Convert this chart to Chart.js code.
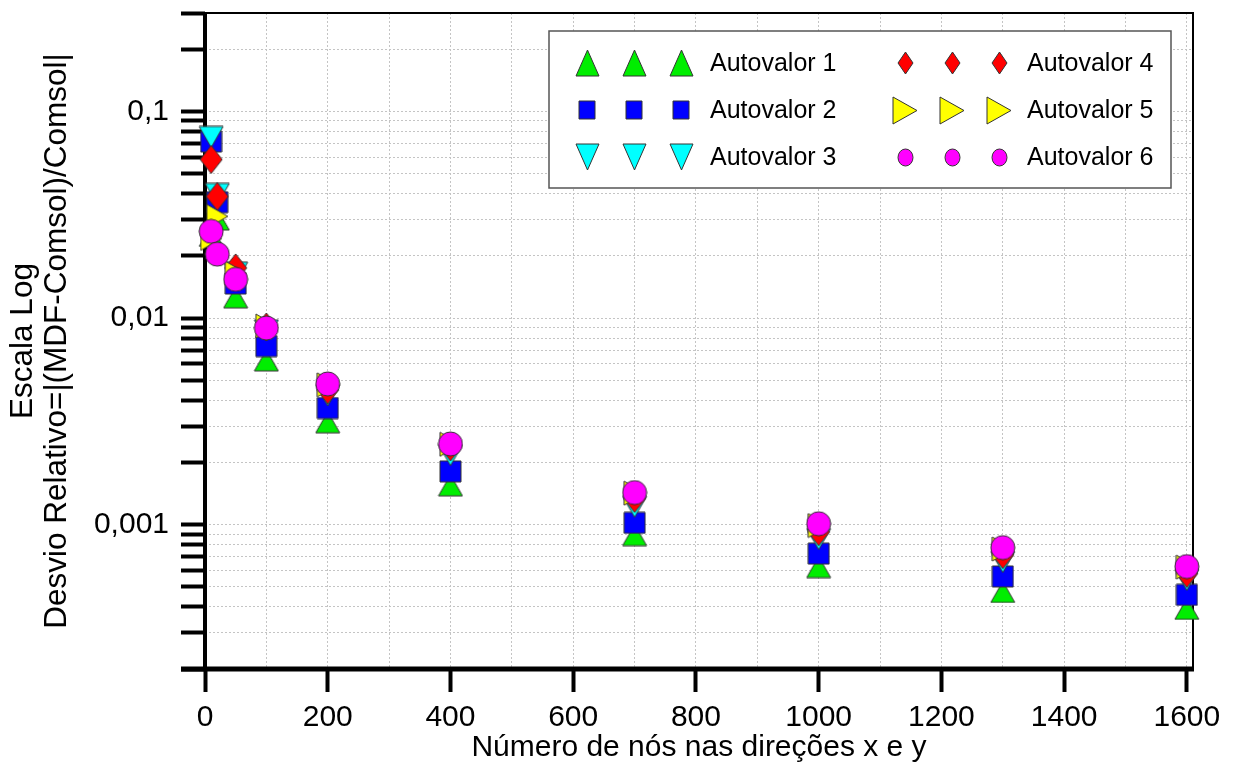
<!DOCTYPE html>
<html lang="pt">
<head>
<meta charset="UTF-8">
<title>Desvio relativo - escala log</title>
<script src="https://cdn.jsdelivr.net/npm/chart.js"></script>
<style>
  body { margin: 0; background: #fff; }
  .wrap { width: 1233px; height: 771px; position: relative; }
</style>
</head>
<body>
<div class="wrap"><canvas id="chart"></canvas></div>
<script>
// data
const nodes = [10, 20, 50, 100, 200, 400, 700, 1000, 1300, 1600];
const autovalor1 = [0.025, 0.030, 0.0126, 0.00624, 0.00313, 0.00155, 0.00089, 0.000623, 0.000472, 0.000391];
const autovalor2 = [0.0716, 0.0364, 0.0147, 0.00732, 0.00367, 0.00181, 0.00102, 0.000724, 0.000561, 0.000457];
const autovalor3 = [0.0753, 0.0399, 0.0166, 0.00871, 0.00423, 0.00217, 0.00122, 0.000851, 0.000659, 0.00054];
const autovalor4 = [0.0586, 0.0388, 0.0175, 0.00905, 0.00449, 0.00238, 0.00134, 0.000925, 0.000716, 0.00058];
const autovalor5 = [0.0243, 0.0311, 0.0165, 0.00915, 0.00475, 0.00245, 0.00142, 0.00099, 0.000762, 0.000623];
const autovalor6 = [0.0263, 0.0204, 0.0154, 0.00895, 0.0048, 0.00246, 0.00143, 0.00101, 0.000774, 0.000627];
const seriesNames = ['Autovalor 1', 'Autovalor 2', 'Autovalor 3', 'Autovalor 4', 'Autovalor 5', 'Autovalor 6'];

const xTicks = [0, 100, 200, 300, 400, 500, 600, 700, 800, 900, 1000, 1100, 1200, 1300, 1400, 1500, 1600];
const yTicks = [0.0002, 0.0003, 0.0004, 0.0005, 0.0006, 0.0007, 0.0008, 0.0009,
                0.001, 0.002, 0.003, 0.004, 0.005, 0.006, 0.007, 0.008, 0.009,
                0.01, 0.02, 0.03, 0.04, 0.05, 0.06, 0.07, 0.08, 0.09,
                0.1, 0.2, 0.3];
const yTickLabels = { '0.001': '0,001', '0.01': '0,01', '0.1': '0,1' };

const FONT = "'Liberation Sans', Arial, sans-serif";

// little marker images (origin-style symbols)
function marker(shape, w, h, fill) {
  const c = document.createElement('canvas');
  c.width = w + 2;
  c.height = h + 2;
  const g = c.getContext('2d');
  g.translate(1, 1);
  g.beginPath();
  if (shape === 'up') {
    g.moveTo(w / 2, 0); g.lineTo(w, h); g.lineTo(0, h);
  } else if (shape === 'down') {
    g.moveTo(0, 0); g.lineTo(w, 0); g.lineTo(w / 2, h);
  } else if (shape === 'right') {
    g.moveTo(0, 0); g.lineTo(w, h / 2); g.lineTo(0, h);
  } else if (shape === 'diamond') {
    g.moveTo(w / 2, 0); g.lineTo(w, h / 2); g.lineTo(w / 2, h); g.lineTo(0, h / 2);
  } else if (shape === 'square') {
    g.rect(0, 0, w, h);
  } else {
    g.ellipse(w / 2, h / 2, w / 2, h / 2, 0, 0, Math.PI * 2);
  }
  g.closePath();
  g.fillStyle = fill;
  g.fill();
  g.lineWidth = 1;
  g.strokeStyle = '#333';
  g.stroke();
  return c;
}

const plotMarkers = [
  marker('up', 24, 21, '#00ee00'),
  marker('square', 21, 21, '#0000ff'),
  marker('down', 24, 21, '#00ffff'),
  marker('diamond', 22, 28, '#ff0000'),
  marker('right', 21, 24, '#ffff00'),
  marker('circle', 24, 24, '#ff00ff')
];
const legendMarkers = [
  marker('up', 23, 26, '#00ee00'),
  marker('square', 16, 18, '#0000ff'),
  marker('down', 23, 26, '#00ffff'),
  marker('diamond', 15, 22, '#ff0000'),
  marker('right', 24, 27, '#ffff00'),
  marker('circle', 15, 17, '#ff00ff')
];

const allSeries = [autovalor1, autovalor2, autovalor3, autovalor4, autovalor5, autovalor6];

const datasets = allSeries.map((vals, i) => ({
  label: seriesNames[i],
  data: nodes.map((x, k) => ({ x: x, y: vals[k] })),
  pointStyle: plotMarkers[i],
  pointRadius: 12,
  showLine: false,
  clip: false,
  order: 6 - i
}));

// axis frame, drawn under the symbols
const framePlugin = {
  id: 'frame',
  beforeDatasetsDraw(chart) {
    const { ctx, chartArea: a } = chart;
    ctx.save();
    ctx.strokeStyle = '#000';
    ctx.lineWidth = 2;
    ctx.beginPath();
    ctx.moveTo(a.left, a.top); ctx.lineTo(a.right, a.top); ctx.lineTo(a.right, a.bottom);
    ctx.stroke();
    ctx.lineWidth = 4;
    ctx.beginPath();
    ctx.moveTo(a.left, a.top - 1); ctx.lineTo(a.left, a.bottom);
    ctx.stroke();
    ctx.lineWidth = 5;
    ctx.beginPath();
    ctx.moveTo(a.left - 24, a.bottom); ctx.lineTo(a.right + 1, a.bottom);
    ctx.stroke();
    ctx.restore();
  }
};

// legend box with three symbols per entry
const legendPlugin = {
  id: 'threeSymbolLegend',
  afterDraw(chart) {
    const ctx = chart.ctx;
    ctx.save();
    ctx.fillStyle = '#fff';
    ctx.fillRect(549, 31, 622, 157);
    ctx.strokeStyle = '#555';
    ctx.lineWidth = 1.5;
    ctx.strokeRect(549, 31, 622, 157);
    ctx.font = '25px ' + FONT;
    ctx.fillStyle = '#000';
    ctx.textBaseline = 'middle';
    const rows = [63, 110, 157];
    seriesNames.forEach((name, i) => {
      const col = i < 3 ? 0 : 1;
      const y = rows[i % 3];
      const xs = col === 0 ? [587, 634, 681] : [905, 952, 999];
      const m = legendMarkers[i];
      xs.forEach(x => ctx.drawImage(m, Math.round(x - m.width / 2), Math.round(y - m.height / 2)));
      ctx.fillText(name, col === 0 ? 710 : 1027, y + 1);
    });
    ctx.restore();
  }
};

new Chart(document.getElementById('chart'), {
  type: 'scatter',
  data: { datasets: datasets },
  options: {
    responsive: true,
    maintainAspectRatio: false,
    animation: false,
    layout: { padding: { left: 0, top: 12, right: 40, bottom: 0 } },
    plugins: {
      legend: { display: false },
      tooltip: { enabled: false }
    },
    scales: {
      x: {
        type: 'linear',
        min: 0,
        max: 1610,
        afterBuildTicks: s => { s.ticks = xTicks.map(v => ({ value: v })); },
        afterFit: s => { s.height = 102; s.paddingLeft = 0; s.paddingRight = 0; },
        border: { display: false, dash: [2, 2] },
        grid: {
          color: c => (c.tick && c.tick.value > 0) ? '#c4c4c4' : 'rgba(0,0,0,0)',
          lineWidth: 1,
          tickLength: 23,
          tickWidth: 4,
          tickColor: c => (c.tick && c.tick.value % 200 === 0) ? '#000' : 'rgba(0,0,0,0)',
          tickBorderDash: []
        },
        ticks: {
          autoSkip: false,
          maxRotation: 0,
          padding: 8,
          color: '#000',
          font: { family: FONT, size: 30 },
          callback: v => (v % 200 === 0 ? String(v) : '')
        },
        title: {
          display: true,
          text: 'Número de nós nas direções x e y',
          color: '#000',
          font: { family: FONT, size: 30, lineHeight: 1.2 },
          padding: { top: 0, bottom: 5 }
        }
      },
      y: {
        type: 'logarithmic',
        min: 0.0002,
        max: 0.3,
        afterBuildTicks: s => { s.ticks = yTicks.map(v => ({ value: v })); },
        afterFit: s => { s.width = 205; s.paddingTop = 0; s.paddingBottom = 0; },
        border: { display: false, dash: [2, 2] },
        grid: {
          color: c => (c.tick && c.tick.value > 0.0002 && c.tick.value < 0.3) ? '#c4c4c4' : 'rgba(0,0,0,0)',
          lineWidth: 1,
          tickLength: 24,
          tickWidth: 4,
          tickColor: '#000',
          tickBorderDash: []
        },
        ticks: {
          autoSkip: false,
          padding: 12,
          color: '#000',
          font: { family: FONT, size: 30 },
          callback: v => yTickLabels[String(v)] || ''
        },
        title: {
          display: true,
          text: ['Escala Log', 'Desvio Relativo=|(MDF-Comsol)/Comsol|'],
          color: '#000',
          font: { family: FONT, size: 31.5, lineHeight: 1.08 },
          padding: { top: 6, bottom: 0 }
        }
      }
    }
  },
  plugins: [framePlugin, legendPlugin]
});
</script>
</body>
</html>
